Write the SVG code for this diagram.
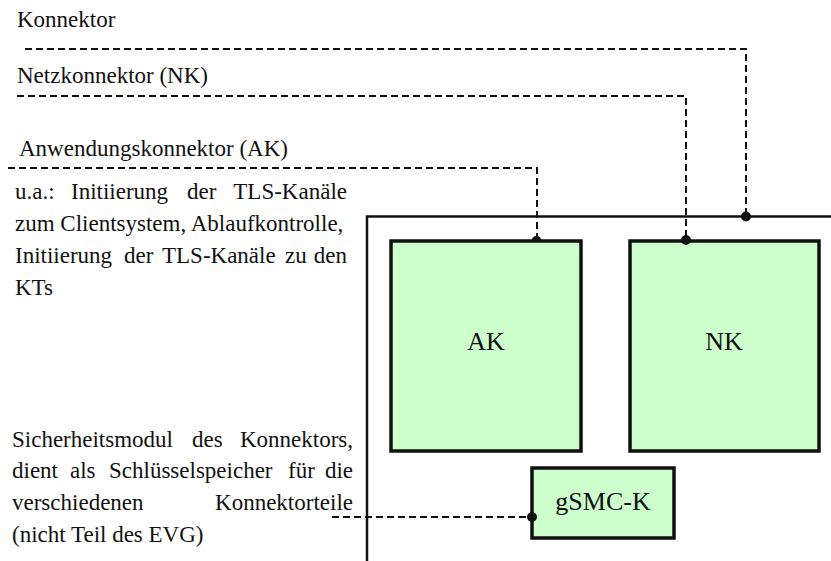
<svg xmlns="http://www.w3.org/2000/svg" width="831" height="561" viewBox="0 0 831 561">
<style>
text{font-family:"Liberation Serif","Times New Roman","DejaVu Serif",serif;fill:#111}
.lbl{font-size:23px}
.r{text-anchor:end}
.box{fill:#ccffcc;stroke:#111;stroke-width:3.5}
.bt{font-size:26px;text-anchor:middle}
.dash{fill:none;stroke:#111;stroke-width:2;stroke-dasharray:7 4}
.frame{fill:none;stroke:#111;stroke-width:2.5}
.dot{fill:#111}
</style>
<rect width="831" height="561" fill="#fff"/>
<g id="labels">
<text class="lbl" x="17" y="27">Konnektor</text>
<text class="lbl" x="17" y="83">Netzkonnektor (NK)</text>
<text class="lbl" x="19" y="156">Anwendungskonnektor (AK)</text>
<text class="lbl" y="199"><tspan x="15">u.a.:</tspan><tspan x="71">Initiierung</tspan><tspan x="187">der</tspan></text>
<text class="lbl r" x="347" y="199">TLS-Kanäle</text>
<text class="lbl" x="15" y="231">zum Clientsystem, Ablaufkontrolle,</text>
<text class="lbl" y="263"><tspan x="15">Initiierung</tspan><tspan x="124">der</tspan><tspan x="162">TLS-Kanäle</tspan><tspan x="285">zu</tspan></text>
<text class="lbl r" x="347" y="263">den</text>
<text class="lbl" x="15" y="295">KTs</text>
<text class="lbl" y="447"><tspan x="12">Sicherheitsmodul</tspan><tspan x="192">des</tspan></text>
<text class="lbl r" x="353" y="447">Konnektors,</text>
<text class="lbl" y="478"><tspan x="12">dient</tspan><tspan x="70">als</tspan><tspan x="109">Schlüsselspeicher</tspan><tspan x="288">für</tspan></text>
<text class="lbl r" x="353" y="478">die</text>
<text class="lbl" x="12" y="510">verschiedenen</text>
<text class="lbl r" x="353" y="510">Konnektorteile</text>
<text class="lbl" x="12" y="542">(nicht Teil des EVG)</text>
</g>
<g id="konnektor">
<path class="frame" d="M367 561 V216.5 H831"/>
</g>
<g id="ak">
<path class="dot" d="M531.5 241 A5 5 0 0 1 541.5 241 Z"/>
<rect class="box" x="391" y="241" width="190" height="210"/>
<text class="bt" x="486" y="350">AK</text>
</g>
<g id="nk">
<rect class="box" x="630" y="241" width="189" height="210"/>
<text class="bt" x="724" y="350">NK</text>
</g>
<g id="gsmc">
<rect class="box" x="532" y="468" width="142" height="70"/>
<text class="bt" x="603" y="510">gSMC-K</text>
</g>
<g id="connectors">
<path class="dash" d="M25 49 H746 V216"/>
<path class="dash" d="M17 96 H686 V240"/>
<path class="dash" d="M8 168 H537 V236"/>
<path class="dash" d="M332 517 H532"/>
<circle class="dot" cx="746" cy="216.5" r="5"/>
<circle class="dot" cx="686" cy="240" r="5"/>
<circle class="dot" cx="532" cy="517" r="5"/>
</g>
</svg>
